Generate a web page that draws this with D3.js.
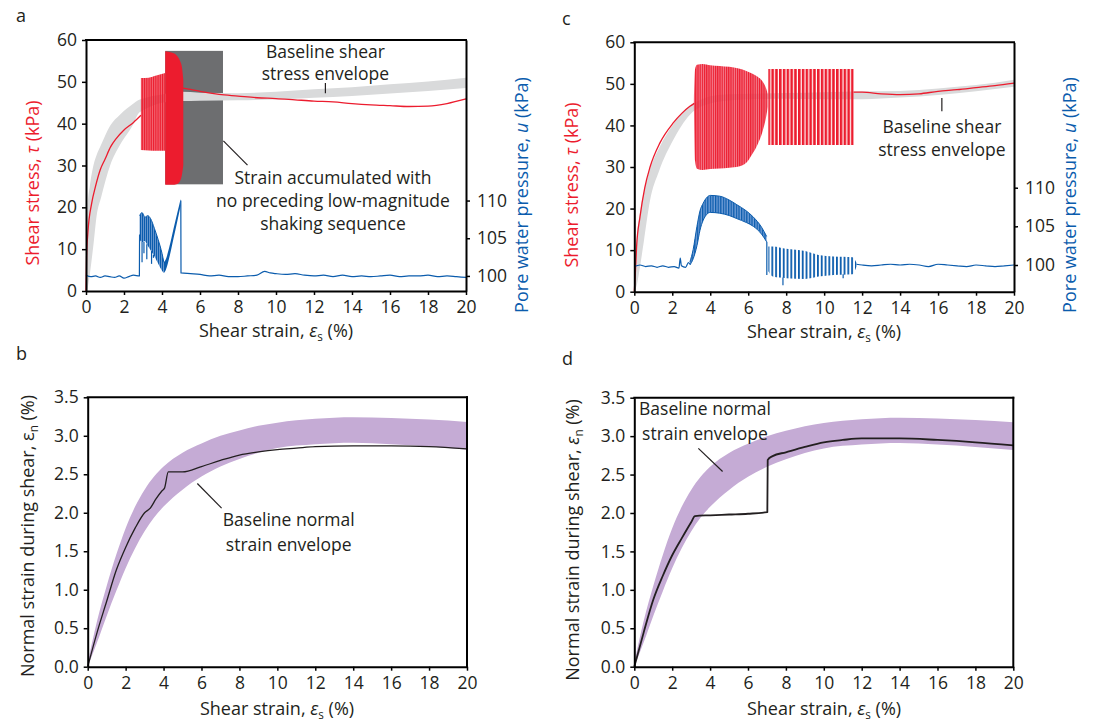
<!DOCTYPE html>
<html>
<head>
<meta charset="utf-8">
<script src="https://cdn.jsdelivr.net/npm/d3@7"></script>
<style>
  body { margin: 0; background: #fff; }
  svg { font-family: "Open Sans", sans-serif; }
</style>
</head>
<body>
<svg id="chart" width="1096" height="725"></svg>
<script>
// tick values
const strainTicks = [0, 2, 4, 6, 8, 10, 12, 14, 16, 18, 20];
const stressTicks = [0, 10, 20, 30, 40, 50, 60];
const poreTicks = [100, 105, 110];
const normalTicks = [0, 0.5, 1.0, 1.5, 2.0, 2.5, 3.0, 3.5];

// panel a: [strain, low, high] bands and [strain, value] lines
const aStressBand = [[0,0,4],[0.05,0,15],[0.1,1,21],[0.2,4,25],[0.39,11,30],[0.56,18,32.5],[0.8,22.5,35],[1.27,30,39.5],[1.8,35,42.2],[2.5,40,44.8],[2.74,42.3,45.6],[3.0,43.2,46],[3.5,44.3,46.6],[4,45,47],[5,45.4,47.6],[6,45.5,47.4],[8,45.6,47.3],[10,45.8,47.6],[12,46.2,48.2],[14,46.6,48.7],[16,47.2,49.4],[18,47.8,50.1],[20,48.5,51.0]];
const aStressLine1 = [[0,0],[0.03,8],[0.1,14],[0.3,21],[0.5,25],[0.75,29],[1.0,31.5],[1.3,34.5],[1.6,36.5],[2.0,38.5],[2.5,40.3],[2.89,42]];
const aStressLine2 = [[5.1,48.5],[5.5,48.2],[6,47.7],[7,47],[8,46.6],[9,46.2],[10,46],[11,45.7],[12,45.4],[13,45.2],[14,44.8],[15,44.5],[16,44.3],[17,44.1],[18,44.2],[19,44.8],[20,45.9]];
const aCycleBand1 = [[2.89,33.7,50.9],[3.3,33.6,51.0],[3.7,33.5,51.5],[4.17,33.5,52.1]];
const aCycleBand2 = [[4.17,25.4,57.3],[4.5,25.4,57.0],[4.8,25.6,56.2],[4.95,26.3,55.0],[5.05,27.8,53.5],[5.12,30,50.5]];
const aDarkX = [4.17, 7.21];
const aDarkY = [25.5, 57.4];
const aPoreBase1 = [[0,100.1],[0.25,99.9],[0.5,100.0],[0.75,99.8],[1.0,100.0],[1.25,99.9],[1.5,99.8],[1.75,100.0],[2.0,99.7],[2.25,99.9],[2.5,100.1],[2.81,100.0],[2.82,105.5]];
const aPoreBand1 = [[2.82,104.8,108.0],[2.95,104.5,108.4],[3.1,104.6,107.8],[3.25,104.0,108.0],[3.4,103.4,107.6],[3.6,102.6,106.3],[3.8,101.6,104.8],[4.0,100.7,103.0],[4.1,100.4,101.8]];
const aPoreBand2 = [[4.1,100.4,101.8],[4.2,100.8,102.2],[4.4,102.6,104.0],[4.6,104.9,106.2],[4.8,107.2,108.3],[4.98,109.3,110.2]];
const aPoreSpikes = [[2.95,104.5,101.8],[3.05,104.5,103.0],[3.2,104.2,102.2],[3.45,103.3,101.6],[3.55,102.8,102.4]];
const aPoreBase2 = [[4.99,110.0],[5.0,100.4],[5.5,100.3],[6,100.2],[6.5,100.0],[7,100.1],[7.5,99.9],[8,99.9],[8.5,100.0],[9.0,100.1],[9.4,100.6],[9.7,100.4],[10,100.3],[10.5,100.2],[11,100.3],[11.5,100.1],[12,100.0],[12.5,100.1],[13,99.9],[13.5,100.1],[14,99.9],[14.5,100.0],[15,99.9],[15.5,100.0],[16,100.1],[16.5,99.9],[17,100.0],[17.5,100.0],[18,100.1],[18.5,99.9],[19,100.0],[19.5,99.9],[20,99.8]];

// panel c
const cStressBand = [[0,0,4],[0.15,2,14],[0.3,6,19],[0.5,12,24],[0.83,22,29.5],[1.3,29,34.5],[2.05,36.5,40.3],[2.93,42.6,44.8],[3.5,44.5,46.2],[4,45.3,47],[5,46,47.5],[6,46.3,47.6],[8,46.4,47.8],[10,46.3,48],[12,46.3,48.2],[14,46.7,48.3],[16,47.3,48.9],[18,48.2,49.7],[20,49.3,51.0]];
const cStressLine1 = [[0,0],[0.05,4],[0.12,10.8],[0.3,18],[0.55,25],[0.83,30],[1.35,35.8],[2.05,40.6],[2.5,42.9],[2.93,44.6],[3.16,45.3]];
const cStressLine2 = [[11.55,48],[12,48.0],[13,47.6],[14,47.4],[15,47.6],[16,48.2],[17,48.6],[18,49.1],[19,49.6],[20,50.2]];
const cCycleBand1 = [[3.14,44.5,46],[3.2,31.5,53.5],[3.3,29.6,54.6],[3.6,29.3,54.8],[4.0,29.5,54.5],[5.0,29.8,54.1],[5.5,30.1,53.7],[5.9,31.0,53.1],[6.2,33.0,52.5],[6.5,35.5,51.7],[6.75,38.5,50.6],[6.95,42.2,48.8],[7.03,44.5,47.5]];
const cCycleBand2 = [[7.06,35.3,53.6],[11.55,35.3,53.6]];
const cPoreBase1 = [[0,99.8],[0.3,100.0],[0.6,99.8],[0.9,99.9],[1.2,99.7],[1.5,99.9],[1.8,99.7],[2.1,99.8],[2.35,99.6],[2.42,100.9],[2.48,99.9],[2.7,99.7],[2.85,100.3],[2.93,100.1]];
const cPoreBand1 = [[2.93,100.0,100.4],[3.1,100.8,102.0],[3.3,102.5,105.0],[3.46,104.5,107.0],[3.63,105.8,108.0],[4.0,106.8,109.0],[4.5,106.7,108.9],[5.0,106.4,108.4],[5.4,106.0,107.8],[5.9,105.5,107.0],[6.27,105.0,106.2],[6.7,104.0,104.9],[6.97,103.0,103.7]];
const cPoreBand2 = [[7.06,99.2,102.4],[7.3,98.5,102.4],[8,98.3,102.1],[9,98.2,101.8],[9.7,98.5,101.3],[10.5,98.7,101.1],[11.5,98.8,101.0],[11.7,99.8,100.3]];
const cPoreSpikes = [[6.98,103.0,98.7],[7.83,98.4,97.4],[11.0,98.8,98.3]];
const cPoreBase2 = [[11.7,100.1],[12,100.0],[12.5,99.9],[13,100.0],[13.5,100.1],[14,100.0],[14.5,100.1],[15,100.0],[15.5,99.8],[16,100.1],[16.5,100.0],[17,99.9],[17.5,99.8],[18,100.0],[18.5,99.9],[19,99.8],[19.5,99.9],[20,100.0]];

// panels b and d
const normalBand = [[0,0,0.05],[0.5,0.32,0.6],[1,0.66,1.05],[1.5,0.98,1.45],[2,1.28,1.8],[2.5,1.54,2.08],[3,1.76,2.3],[3.5,1.94,2.47],[4,2.08,2.6],[5,2.3,2.78],[6,2.47,2.9],[7,2.6,3.0],[8,2.7,3.07],[9,2.78,3.13],[10,2.84,3.17],[12,2.89,3.22],[14,2.91,3.24],[16,2.89,3.23],[18,2.86,3.21],[20,2.82,3.18]];
const bNormalLine = [[0,0],[0.5,0.45],[1,0.85],[1.5,1.25],[2,1.55],[2.5,1.8],[3,2.0],[3.3,2.06],[3.6,2.18],[3.9,2.28],[4.05,2.32],[4.25,2.53],[5.0,2.53],[6,2.6],[7,2.68],[8,2.75],[9,2.79],[10,2.82],[11,2.84],[12,2.86],[14,2.87],[16,2.87],[18,2.86],[20,2.83]];
const dNormalLine = [[0,0],[0.5,0.45],[1,0.87],[1.5,1.18],[2,1.45],[2.5,1.67],[3,1.88],[3.2,1.96],[4,1.97],[5,1.98],[6,1.99],[7.02,2.01],[7.04,2.69],[7.3,2.74],[8,2.79],[9,2.86],[10,2.92],[11,2.95],[12,2.97],[14,2.97],[16,2.95],[18,2.92],[20,2.88]];

const red = '#ec1c2e';
const blue = '#0b5cad';
const ink = '#231f20';

const svg = d3.select('#chart');
const defs = svg.append('defs');

const addHatch = (id, w, stripe, color, bg) => {
  let pat = defs.append('pattern')
  .attr('id', id)
  .attr('patternUnits', 'userSpaceOnUse')
  .attr('width', w)
  .attr('height', 10);
  if (bg) pat.append('rect').attr('width', w).attr('height', 10).attr('fill', bg);
  pat.append('rect').attr('width', stripe).attr('height', 10).attr('fill', color);
};

addHatch('redA', 1.8, 1.5, red);
addHatch('redC1', 2.2, 1.2, red, 'rgba(238,70,92,0.7)');
addHatch('redC2', 3.8, 2.6, red);
addHatch('blueA', 2, 1.3, blue, 'rgba(60,120,195,0.6)');
addHatch('blueC1', 2.6, 1.3, blue, 'rgba(80,135,205,0.8)');
addHatch('blueC2', 3.8, 1.8, blue);

const makePanel = (box, yDomain, rDomain) => {
  let p = { box: box, g: svg.append('g') };
  p.x = d3.scaleLinear().domain([0, 20]).range([box.l, box.r]);
  p.y = d3.scaleLinear().domain(yDomain).range([box.b, box.t]);
  if (rDomain) p.yR = d3.scaleLinear().domain(rDomain).range([box.b, box.t]);
  return p;
};

const drawBand = (p, y, data, fill) => {
  p.g.append('path')
  .datum(data)
  .attr('d', d3.area().curve(d3.curveMonotoneX).x(d => p.x(d[0])).y0(d => y(d[1])).y1(d => y(d[2])))
  .attr('fill', fill);
};

const drawLine = (p, y, data, color, w) => {
  p.g.append('path')
  .datum(data)
  .attr('d', d3.line().curve(d3.curveMonotoneX).x(d => p.x(d[0])).y(d => y(d[1])))
  .attr('fill', 'none')
  .attr('stroke', color)
  .attr('stroke-width', w)
  .attr('stroke-linejoin', 'round');
};

const drawSpikes = (p, y, data, color) => {
  p.g.selectAll(null)
  .data(data)
  .join('line')
  .attr('x1', d => p.x(d[0])).attr('x2', d => p.x(d[0]))
  .attr('y1', d => y(d[1])).attr('y2', d => y(d[2]))
  .attr('stroke', color)
  .attr('stroke-width', 1.2);
};

const styleAxis = (g) => {
  g.attr('font-size', null).attr('font-family', null);
  g.select('.domain').attr('stroke', '#000').attr('stroke-width', 2);
  g.selectAll('.tick line').attr('stroke', '#000').attr('stroke-width', 1.5);
  g.selectAll('.tick text').attr('fill', ink).attr('font-size', 17.5);
};

const drawAxes = (p, yTicks, yFmt) => {
  let b = p.box;
  p.g.append('g')
  .attr('transform', `translate(0,${b.b})`)
  .call(d3.axisBottom(p.x).tickValues(strainTicks).tickSize(4).tickPadding(6).tickSizeOuter(0))
  .call(styleAxis);
  p.g.append('g')
  .attr('transform', `translate(${b.l},0)`)
  .call(d3.axisLeft(p.y).tickValues(yTicks).tickFormat(yFmt).tickSize(4).tickPadding(5).tickSizeOuter(0))
  .call(styleAxis);
  p.g.append('line')
  .attr('x1', b.l).attr('x2', b.r).attr('y1', b.t).attr('y2', b.t)
  .attr('stroke', '#000').attr('stroke-width', 2).attr('stroke-linecap', 'square');
  if (p.yR) {
    p.g.append('g')
    .attr('transform', `translate(${b.r},0)`)
    .call(d3.axisRight(p.yR).tickValues(poreTicks).tickSize(4).tickPadding(7).tickSizeOuter(0))
    .call(styleAxis);
  } else {
    p.g.append('line')
    .attr('x1', b.r).attr('x2', b.r).attr('y1', b.t).attr('y2', b.b)
    .attr('stroke', '#000').attr('stroke-width', 2).attr('stroke-linecap', 'square');
  }
};

// text with italic / subscript parts
const addText = (x, y, rot, color, size, parts, anchor) => {
  let t = svg.append('text')
  .attr('transform', `translate(${x},${y}) rotate(${rot})`)
  .attr('text-anchor', anchor || 'middle')
  .attr('fill', color)
  .attr('font-size', size);
  let shifted = false;
  parts.forEach(part => {
    let s = typeof part === 'string' ? part : part[0];
    let kind = typeof part === 'string' ? '' : part[1];
    let ts = t.append('tspan').text(s);
    if (kind === 'i') ts.attr('font-style', 'italic');
    if (kind === 'sub') {
      ts.attr('font-size', size * 0.65).attr('dy', 4);
      shifted = true;
    } else if (shifted) {
      ts.attr('dy', -4);
      shifted = false;
    }
  });
};

const addNote = (p, lines, xv, yv, gap) => {
  lines.forEach((line, i) => {
    svg.append('text')
    .attr('x', p.x(xv))
    .attr('y', p.y(yv) + i * gap)
    .attr('text-anchor', 'middle')
    .attr('fill', ink)
    .attr('font-size', 17.5)
    .text(line);
  });
};

const addLeader = (p, pts) => {
  p.g.append('line')
  .attr('x1', p.x(pts[0])).attr('y1', p.y(pts[1]))
  .attr('x2', p.x(pts[2])).attr('y2', p.y(pts[3]))
  .attr('stroke', ink).attr('stroke-width', 1.2);
};

const strainTitle = ['Shear strain, ', ['ε', 'i'], ['s', 'sub'], ' (%)'];

// ---- panel a ----
const pa = makePanel({ l: 86, r: 466, t: 40, b: 291 }, [0, 60], [98.0, 131.3]);
pa.g.append('rect')
.attr('x', pa.x(aDarkX[0]))
.attr('y', pa.y(aDarkY[1]))
.attr('width', pa.x(aDarkX[1]) - pa.x(aDarkX[0]))
.attr('height', pa.y(aDarkY[0]) - pa.y(aDarkY[1]))
.attr('fill', '#6d6e70');
drawBand(pa, pa.y, aStressBand, '#d9dadb');
drawBand(pa, pa.y, aCycleBand1, 'url(#redA)');
drawBand(pa, pa.y, aCycleBand2, red);
drawLine(pa, pa.y, aStressLine1, red, 1.3);
drawLine(pa, pa.y, aStressLine2, red, 1.3);
drawLine(pa, pa.yR, aPoreBase1, blue, 1.2);
drawBand(pa, pa.yR, aPoreBand1, 'url(#blueA)');
drawLine(pa, pa.yR, aPoreBand1.map(d => [d[0], d[2]]), blue, 1);
drawSpikes(pa, pa.yR, aPoreSpikes, blue);
drawBand(pa, pa.yR, aPoreBand2, blue);
drawLine(pa, pa.yR, aPoreBase2, blue, 1.2);
addLeader(pa, [12.6, 49.7, 12.6, 47.3]);
addLeader(pa, [7.23, 35.9, 8.5, 30.1]);
drawAxes(pa, stressTicks, d3.format('d'));
addNote(pa, ['Baseline shear', 'stress envelope'], 12.6, 55.7, 22.5);
addNote(pa, ['Strain accumulated with', 'no preceding low-magnitude', 'shaking sequence'], 13.0, 25.6, 23);

// ---- panel c ----
const pc = makePanel({ l: 634.3, r: 1014, t: 42.3, b: 291.7 }, [0, 60], [96.55, 128.8]);
drawBand(pc, pc.y, cStressBand, '#d9dadb');
drawBand(pc, pc.y, cCycleBand1, 'url(#redC1)');
drawBand(pc, pc.y, cCycleBand2, 'url(#redC2)');
drawLine(pc, pc.y, cStressLine1, red, 1.3);
drawLine(pc, pc.y, cStressLine2, red, 1.3);
drawLine(pc, pc.yR, cPoreBase1, blue, 1.2);
drawBand(pc, pc.yR, cPoreBand1, 'url(#blueC1)');
drawLine(pc, pc.yR, cPoreBand1.map(d => [d[0], d[2]]), blue, 1);
drawLine(pc, pc.yR, cPoreBand1.map(d => [d[0], d[1]]), blue, 1);
drawBand(pc, pc.yR, cPoreBand2, 'url(#blueC2)');
drawSpikes(pc, pc.yR, cPoreSpikes, blue);
drawLine(pc, pc.yR, cPoreBase2, blue, 1.2);
addLeader(pc, [16.2, 46.6, 16.2, 43.4]);
drawAxes(pc, stressTicks, d3.format('d'));
addNote(pc, ['Baseline shear', 'stress envelope'], 16.2, 38.2, 23.5);

// ---- panel b ----
const pb = makePanel({ l: 87.7, r: 467, t: 397.3, b: 666.7 }, [0, 3.5]);
drawBand(pb, pb.y, normalBand, '#c5abd5');
drawLine(pb, pb.y, bNormalLine, ink, 1.3);
addLeader(pb, [5.78, 2.38, 7.06, 2.06]);
drawAxes(pb, normalTicks, d3.format('.1f'));
addNote(pb, ['Baseline normal', 'strain envelope'], 10.6, 1.83, 25);

// ---- panel d ----
const pd = makePanel({ l: 634.3, r: 1013.3, t: 397.7, b: 666.7 }, [0, 3.5]);
drawBand(pd, pd.y, normalBand, '#c5abd5');
drawLine(pd, pd.y, dNormalLine, ink, 1.8);
addLeader(pd, [3.38, 2.84, 4.66, 2.54]);
drawAxes(pd, normalTicks, d3.format('.1f'));
addNote(pd, ['Baseline normal', 'strain envelope'], 3.73, 3.27, 25);

// axis titles
addText(39, 183, -90, red, 18, ['Shear stress, ', ['τ', 'i'], ' (kPa)']);
addText(528, 195, -90, blue, 18, ['Pore water pressure, ', ['u', 'i'], ' (kPa)']);
addText(578, 185, -90, red, 18, ['Shear stress, ', ['τ', 'i'], ' (kPa)']);
addText(1076, 195, -90, blue, 18, ['Pore water pressure, ', ['u', 'i'], ' (kPa)']);
addText(34, 536, -90, ink, 18, ['Normal strain during shear, ', 'ε', ['n', 'sub'], ' (%)']);
addText(579, 540, -90, ink, 18, ['Normal strain during shear, ', ['ε', 'i'], ['n', 'sub'], ' (%)']);
addText(276, 337, 0, ink, 18, strainTitle);
addText(824, 338, 0, ink, 18, strainTitle);
addText(277, 715, 0, ink, 18, strainTitle);
addText(824, 715, 0, ink, 18, strainTitle);

// panel letters
addText(16, 22, 0, ink, 18, ['a'], 'start');
addText(562, 25, 0, ink, 18, ['c'], 'start');
addText(16, 360, 0, ink, 18, ['b'], 'start');
addText(562, 365, 0, ink, 18, ['d'], 'start');
</script>
</body>
</html>
